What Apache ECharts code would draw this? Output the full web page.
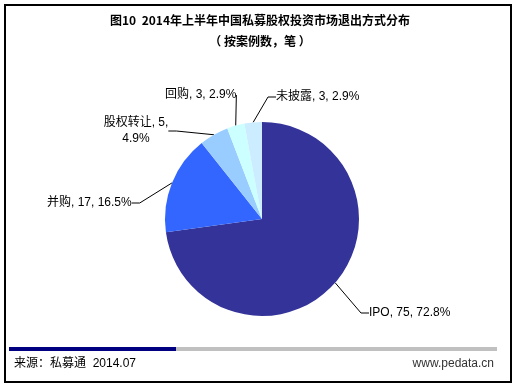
<!DOCTYPE html>
<html><head><meta charset="utf-8">
<script src="https://cdn.jsdelivr.net/npm/echarts@6/dist/echarts.min.js"></script>
<style>html,body{margin:0;padding:0;background:#fff}#c{width:518px;height:387px}</style>
</head><body><div id="c"></div>
<script>
const categories = ['IPO', '并购', '股权转让', '回购', '未披露'];
const counts = [75, 17, 5, 3, 3];
const percents = ['72.8%', '16.5%', '4.9%', '2.9%', '2.9%'];
const colors = ['#333399', '#3366FF', '#99CCFF', '#CCFFFF', '#CCECFF'];
const labelSpots = [
  {x: 369, y: 313, align: 'left'},
  {x: 47, y: 203, align: 'left'},
  {x: 136, y: 131, align: 'center'},
  {x: 165, y: 95, align: 'left'},
  {x: 276, y: 97, align: 'left'}
];
const FONT = 'Arial, "Liberation Sans", "Noto Sans CJK SC", sans-serif';
const chart = echarts.init(document.getElementById('c'), null, {renderer: 'canvas'});
const data = categories.map((c, i) => ({
  name: c, value: counts[i], itemStyle: {color: colors[i]}
}));
chart.setOption({
  animation: false,
  backgroundColor: '#fff',
  title: [{
    text: '图10  2014年上半年中国私募股权投资市场退出方式分布',
    left: 255, top: 9, textAlign: 'center',
    textStyle: {fontSize: 12, fontWeight: 'bold', color: '#000', fontFamily: '"Noto Sans CJK SC", sans-serif'}
  }, {
    text: '（ 按案例数，笔 ）',
    left: 255, top: 30, textAlign: 'center',
    textStyle: {fontSize: 12, fontWeight: 'bold', color: '#000', fontFamily: '"Noto Sans CJK SC", sans-serif'}
  }],
  series: [{
    type: 'pie',
    center: [262, 219],
    radius: 97,
    startAngle: 90,
    clockwise: true,
    data: data,
    label: {
      show: true,
      position: 'outside',
      fontSize: 12,
      color: '#000',
      fontFamily: FONT,
      lineHeight: 16,
      formatter: p => {
        const i = p.dataIndex;
        if (i === 2) return p.name + ', ' + counts[i] + ',\n' + percents[i];
        return p.name + ', ' + counts[i] + ', ' + percents[i];
      }
    },
    labelLine: {show: true, length: 15, length2: 8, lineStyle: {color: '#000', width: 1}},
    labelLayout: p => {
      const s = labelSpots[p.dataIndex];
      return {x: s.x, y: s.y, align: s.align, verticalAlign: 'middle'};
    }
  }],
  graphic: [
    {type: 'rect', shape: {x: 5, y: 5, width: 506, height: 377}, style: {fill: null, stroke: '#000', lineWidth: 2}},
    {type: 'rect', shape: {x: 9, y: 347, width: 167, height: 4}, style: {fill: '#000080'}},
    {type: 'rect', shape: {x: 176, y: 347, width: 321, height: 4}, style: {fill: '#C0C0C0'}},
    {type: 'text', x: 14, y: 364, style: {text: '来源：私募通  2014.07', fontSize: 12, fill: '#000', fontFamily: FONT, verticalAlign: 'middle'}},
    {type: 'text', x: 494, y: 364, style: {text: 'www.pedata.cn', fontSize: 12, fill: '#333', fontFamily: FONT, align: 'right', verticalAlign: 'middle'}}
  ]
});
</script></body></html>
